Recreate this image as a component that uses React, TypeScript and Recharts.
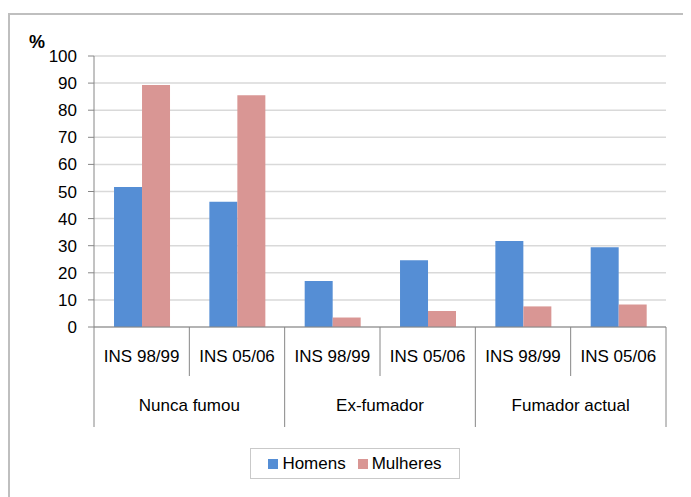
import { Bar, BarChart, CartesianGrid, Legend, XAxis, YAxis } from 'recharts';

const periods = ['INS 98/99', 'INS 05/06', 'INS 98/99', 'INS 05/06', 'INS 98/99', 'INS 05/06'];
const groups = ['Nunca fumou', 'Nunca fumou', 'Ex-fumador', 'Ex-fumador', 'Fumador actual', 'Fumador actual'];
const homens = [51.7, 46.2, 17.0, 24.6, 31.7, 29.4];
const mulheres = [89.3, 85.5, 3.5, 5.9, 7.6, 8.3];
const yTicks = [0, 10, 20, 30, 40, 50, 60, 70, 80, 90, 100];

const data = periods.map((p, i) => ({
  period: p,
  group: groups[i],
  Homens: homens[i],
  Mulheres: mulheres[i],
}));

const W = 683;
const H = 489;
const MARGIN = { top: 48, right: 25, left: 26, bottom: 18 };
const Y_WIDTH = 60;
const BAND = (W - MARGIN.left - MARGIN.right - Y_WIDTH) / periods.length;
const AXIS_GRAY = '#868686';
const FONT = 17;

// inner axis: period labels + the separator lines of both levels
function PeriodTick(props: any) {
  const { x, y, payload, index } = props;
  const left = x - BAND / 2;
  const long = index % 2 === 0;
  return (
    <g>
      <line x1={left} x2={left} y1={y} y2={y + (long ? 100 : 49)} stroke={AXIS_GRAY} />
      {index === periods.length - 1 && (
        <line x1={x + BAND / 2} x2={x + BAND / 2} y1={y} y2={y + 100} stroke={AXIS_GRAY} />
      )}
      <text x={x} y={y + 29} dy="0.355em" textAnchor="middle" fill="#000" fontSize={FONT}>
        {payload.value}
      </text>
    </g>
  );
}

// outer axis: one label per pair of bars
function GroupTick(props: any) {
  const { x, y, payload, index } = props;
  if (index % 2 !== 0) return <g />;
  return (
    <text x={x + BAND / 2} y={y + 29} dy="0.355em" textAnchor="middle" fill="#000" fontSize={FONT}>
      {payload.value}
    </text>
  );
}

function PercentLabel(props: any) {
  const { viewBox } = props;
  return (
    <text x={viewBox.x - 5} y={viewBox.y - 8} fontSize={18} fontWeight="bold" fill="#000">
      %
    </text>
  );
}

function LegendBox(props: any) {
  const items = props.payload ?? [];
  return (
    <div
      style={{
        height: 31,
        boxSizing: 'border-box',
        border: '1px solid #c9c9c9',
        display: 'flex',
        alignItems: 'center',
        justifyContent: 'center',
        fontSize: FONT,
        color: '#000',
      }}
    >
      {items.map((it: any, i: number) => (
        <span key={it.value} style={{ display: 'flex', alignItems: 'center', marginLeft: i ? 12 : 0 }}>
          <span style={{ width: 10, height: 10, background: it.color, marginRight: 4 }} />
          {it.value}
        </span>
      ))}
    </div>
  );
}

export default function App() {
  return (
    <div
      style={{
        position: 'relative',
        width: W,
        height: H,
        overflow: 'hidden',
        fontFamily: '"Liberation Sans", Arial, sans-serif',
      }}
    >
      <div
        style={{
          position: 'absolute',
          left: 0,
          top: 5,
          width: 760,
          height: 600,
          borderLeft: '2px solid #bfbfbf',
          borderTop: '2px solid #bfbfbf',
        }}
      />
      <BarChart
        width={W}
        height={H}
        data={data}
        margin={MARGIN}
        barCategoryGap="21%"
        barGap={0}
        style={{ position: 'absolute', left: 0, top: 0 }}
      >
        <CartesianGrid xAxisId="inner" vertical={false} stroke="#d9d9d9" strokeWidth={1.5} />
        <XAxis
          xAxisId="inner"
          dataKey="period"
          height={49}
          interval={0}
          tickLine={false}
          tickSize={0}
          tickMargin={0}
          axisLine={{ stroke: AXIS_GRAY }}
          tick={PeriodTick}
        />
        <XAxis
          xAxisId="outer"
          dataKey="group"
          height={72}
          interval={0}
          tickLine={false}
          tickSize={0}
          tickMargin={0}
          axisLine={false}
          tick={GroupTick}
        />
        <YAxis
          width={Y_WIDTH}
          domain={[0, 100]}
          ticks={yTicks}
          interval={0}
          tickSize={6}
          tickMargin={11}
          axisLine={{ stroke: AXIS_GRAY }}
          tickLine={{ stroke: AXIS_GRAY }}
          tick={{ fill: '#000', fontSize: FONT }}
          label={PercentLabel}
        />
        <Legend
          verticalAlign="bottom"
          content={LegendBox}
          wrapperStyle={{ left: 242, width: 210, bottom: 18 }}
        />
        <Bar xAxisId="inner" dataKey="Homens" fill="#558ED5" isAnimationActive={false} />
        <Bar xAxisId="inner" dataKey="Mulheres" fill="#D99694" isAnimationActive={false} />
      </BarChart>
    </div>
  );
}
